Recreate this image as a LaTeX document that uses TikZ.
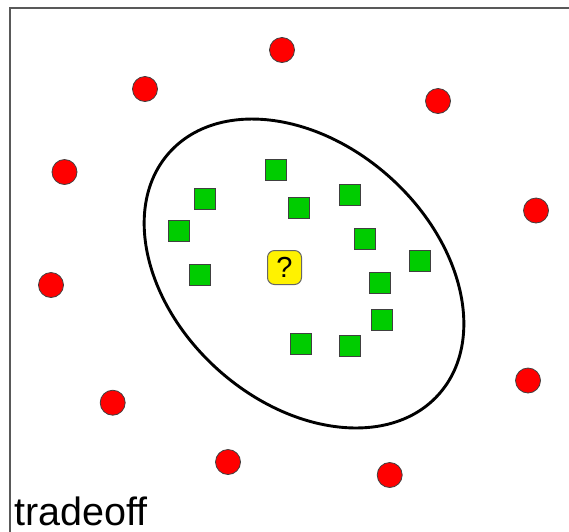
\documentclass[tikz,border=0pt]{standalone}
\usepackage{fontspec}
\setmainfont{Liberation Sans}
\usepackage{tikz}

\begin{document}
\begin{tikzpicture}[x=1pt, y=-1pt]
    \tikzstyle{red point} = [circle,draw=black!75,fill=red,line width=0.8pt,inner sep=0pt, minimum size=25pt]
    \tikzstyle{green point} = [rectangle,draw=black!75,fill=green!80!black,line width=1pt,inner sep=0pt, minimum size=21pt]
    \tikzstyle{query point} = [rectangle,rounded corners=7pt,draw=black!60,fill=yellow,line width=1pt,inner sep=0pt, minimum size=34pt, font=\fontsize{29}{31}\selectfont]
    \tikzstyle{region line} = [draw=black, line width=2.9pt]
    \tikzstyle{frame line} = [draw=black!65, line width=1.3pt]
\useasboundingbox (0,0) rectangle (569,531);
\draw[frame line] (10,545) |- (585,8);
\draw[region line, rotate around={-42:(304,273.5)}] (304,273.5) ellipse [x radius=181, y radius=129];
\node[red point] (r1) at (282, 50) {};
\node[red point] (r2) at (145, 89) {};
\node[red point] (r3) at (438, 101) {};
\node[red point] (r4) at (64.5, 172) {};
\node[red point] (r5) at (536, 210.5) {};
\node[red point] (r6) at (51, 285) {};
\node[red point] (r7) at (528, 380.5) {};
\node[red point] (r8) at (112.7, 402.7) {};
\node[red point] (r9) at (228, 462) {};
\node[red point] (r10) at (389.7, 475) {};
\node[green point] (g1) at (276, 169.5) {};
\node[green point] (g2) at (205, 199) {};
\node[green point] (g3) at (178.5, 231) {};
\node[green point] (g4) at (200, 275) {};
\node[green point] (g5) at (298.5, 208) {};
\node[green point] (g6) at (350, 195) {};
\node[green point] (g7) at (364.5, 239) {};
\node[green point] (g8) at (420, 261) {};
\node[green point] (g9) at (380, 283) {};
\node[green point] (g10) at (382, 320) {};
\node[green point] (g11) at (301, 344) {};
\node[green point] (g12) at (350, 346) {};
\node[query point] (q) at (284.5, 267.5) {?};
\node[anchor=base west, inner sep=0pt, font=\fontsize{39.5}{41}\selectfont] (label) at (14, 525) {tradeoff};
\end{tikzpicture}
\end{document}
